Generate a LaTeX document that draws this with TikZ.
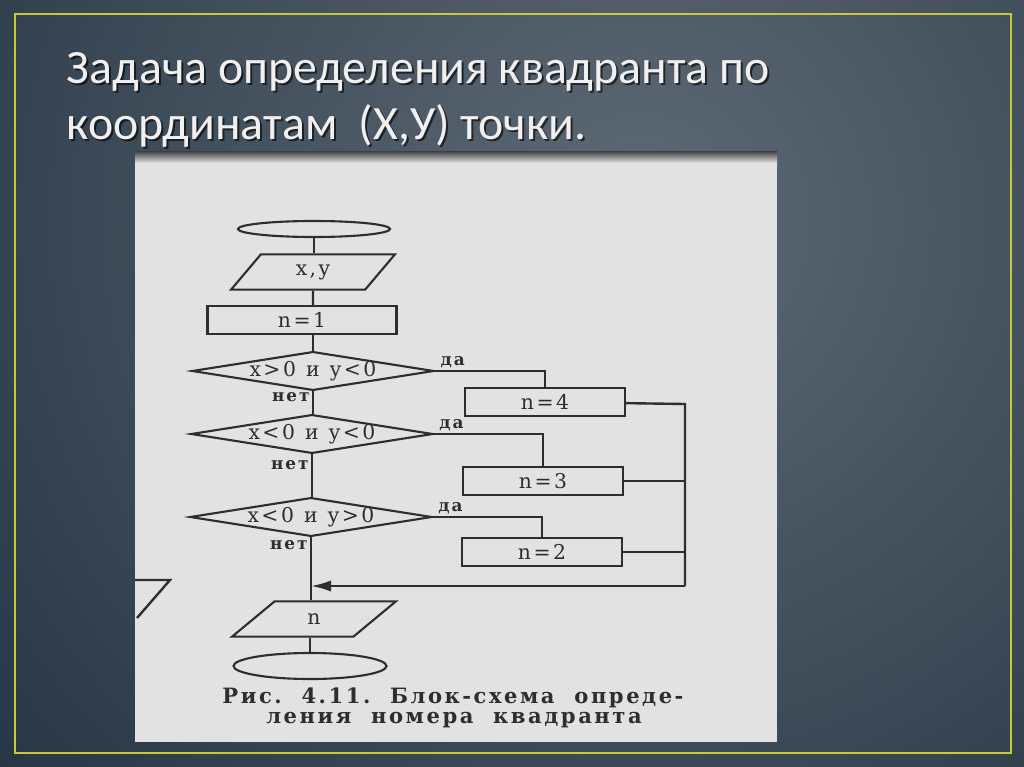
\documentclass[tikz,border=0pt]{standalone}
\usepackage{fontspec}
\usetikzlibrary{positioning, calc, shapes.geometric, arrows.meta}
\newfontfamily\titlefont{Carlito}
\newfontfamily\scanfont[LetterSpace=12]{DejaVu Serif}
\definecolor{bgin}{HTML}{5E6B75}
\definecolor{bgout}{HTML}{1B2939}
\definecolor{frame}{HTML}{C9C838}
\definecolor{paper}{HTML}{E2E2E2}
\definecolor{ink}{HTML}{2E2E2E}
\definecolor{titletext}{HTML}{F0F0F0}

\begin{document}
\begin{tikzpicture}[
            x=0.025cm, y=-0.025cm,
            terminal/.style={ellipse, draw=ink, line width=1.5pt, minimum width=3.8cm, minimum height=0.4cm, inner sep=0pt},
            io/.style={trapezium, trapezium left angle=57, trapezium right angle=123, trapezium stretches=true, draw=ink, line width=1.5pt, minimum width=4.1cm, minimum height=0.88cm, inner sep=0pt, font=\scanfont\fontsize{14.5}{16}\selectfont, text=ink},
            process/.style={rectangle, draw=ink, line width=1.6pt, minimum width=4cm, minimum height=0.7cm, inner sep=0pt, font=\scanfont\fontsize{14.5}{16}\selectfont, text=ink},
            decision/.style={diamond, draw=ink, line width=1.5pt, aspect=6.4, minimum width=6.05cm, minimum height=0.97cm, inner sep=0pt, text height=1.7ex, text depth=0pt, font=\scanfont\fontsize{14.5}{16}\selectfont, text=ink},
            flow/.style={draw=ink, line width=1.7pt},
            merge/.style={flow, -{Latex[length=5mm, width=2.8mm]}},
            tag/.style={font=\scanfont\bfseries\fontsize{12}{13}\selectfont, text=ink, inner sep=1.5pt},
            heading/.style={anchor=base west, font=\titlefont\fontsize{34}{40}\selectfont}
        ]
            % --- background and frame ---
            \useasboundingbox (0,0) rectangle (1024,767);
            \begin{scope}
              \clip (0,0) rectangle (1024,767);
              \fill[bgout] (0,0) rectangle (1024,767);
              \shade[inner color=bgin, outer color=bgout] (640,220) circle (1050);
            \end{scope}
            \draw[frame, line width=2pt] (15,14) rectangle (1011,753);

            % --- title ---
            \node[heading, text=black, opacity=0.6] at (64,86) {Задача определения квадранта по};
            \node[heading, text=titletext] (title1) at (62,84) {Задача определения квадранта по};
            \node[heading, text=black, opacity=0.6] at (64,142) {координатам \ (Х,У) точки.};
            \node[heading, text=titletext] (title2) at (62,140) {координатам \ (Х,У) точки.};

            % --- scanned page ---
            \fill[paper] (135,155) rectangle (777,742);
            \shade[top color=gray!60!black, bottom color=paper] (135,152) rectangle (777,163);
            \draw[flow] (135,580) -- (170,580) -- (137,618);

            % --- flowchart nodes ---
            \node[terminal] (start) at (314,229) {};
            \node[io] (xy) at (313,272) {x,y};
            \node[process, minimum width=4.725cm] (n1) at (302,320) {n=1};
            \node[decision] (d1) at (313,371) {x>0\enspace и\enspace y<0};
            \node[decision] (d2) at (312,434) {x<0\enspace и\enspace y<0};
            \node[decision] (d3) at (311,517) {x<0\enspace и\enspace y>0};
            \node[process] (n4) at (545,402) {n=4};
            \node[process] (n3) at (543,481) {n=3};
            \node[process] (n2) at (542,552) {n=2};
            \node[io] (out) at (314,619) {n};
            \node[terminal, minimum width=3.825cm, minimum height=0.65cm] (finish) at (310,666) {};

            % --- main column ---
            \draw[flow] (start) -- (start |- xy.north);
            \draw[flow] (xy) -- (xy |- n1.north);
            \draw[flow] (n1.south -| d1) -- (d1);
            \draw[flow] (d1) -- node[tag, near start, left] {нет} (d1 |- d2.north);
            \draw[flow] (d2) -- node[tag, near start, left] {нет} (d2 |- d3.north);
            \draw[flow] (d3) -- node[tag, pos=0.12, left] {нет} (d3 |- out.north);
            \draw[flow] (out.south -| finish) -- (finish);

            % --- branches ---
            \draw[flow] (d1.east) -| node[tag, pos=0.08, above] {да} (n4);
            \draw[flow] (d2.east) -| node[tag, pos=0.08, above] {да} (n3);
            \draw[flow] (d3.east) -| node[tag, pos=0.08, above] {да} (n2);

            \coordinate (railtop) at (685,404);
            \coordinate (railbot) at (685,586);
            \coordinate (meet) at (d3 |- railbot);
            \draw[flow] (n4) -- (railtop) -- (railbot);
            \draw[flow] (n3) -- (n3 -| railtop);
            \draw[flow] (n2) -- (n2 -| railtop);
            \draw[merge] (railbot) -- (meet);

            % --- caption ---
            \node[anchor=base, font=\scanfont\bfseries\fontsize{15}{16}\selectfont, text=ink] (cap1) at (453,703) {Рис.\ \ 4.11.\ \ Блок-схема\ \ опреде-};
            \node[anchor=base, font=\scanfont\bfseries\fontsize{15}{16}\selectfont, text=ink] (cap2) at (454,723) {ления\ \ номера\ \ квадранта};

        \end{tikzpicture}
\end{document}
